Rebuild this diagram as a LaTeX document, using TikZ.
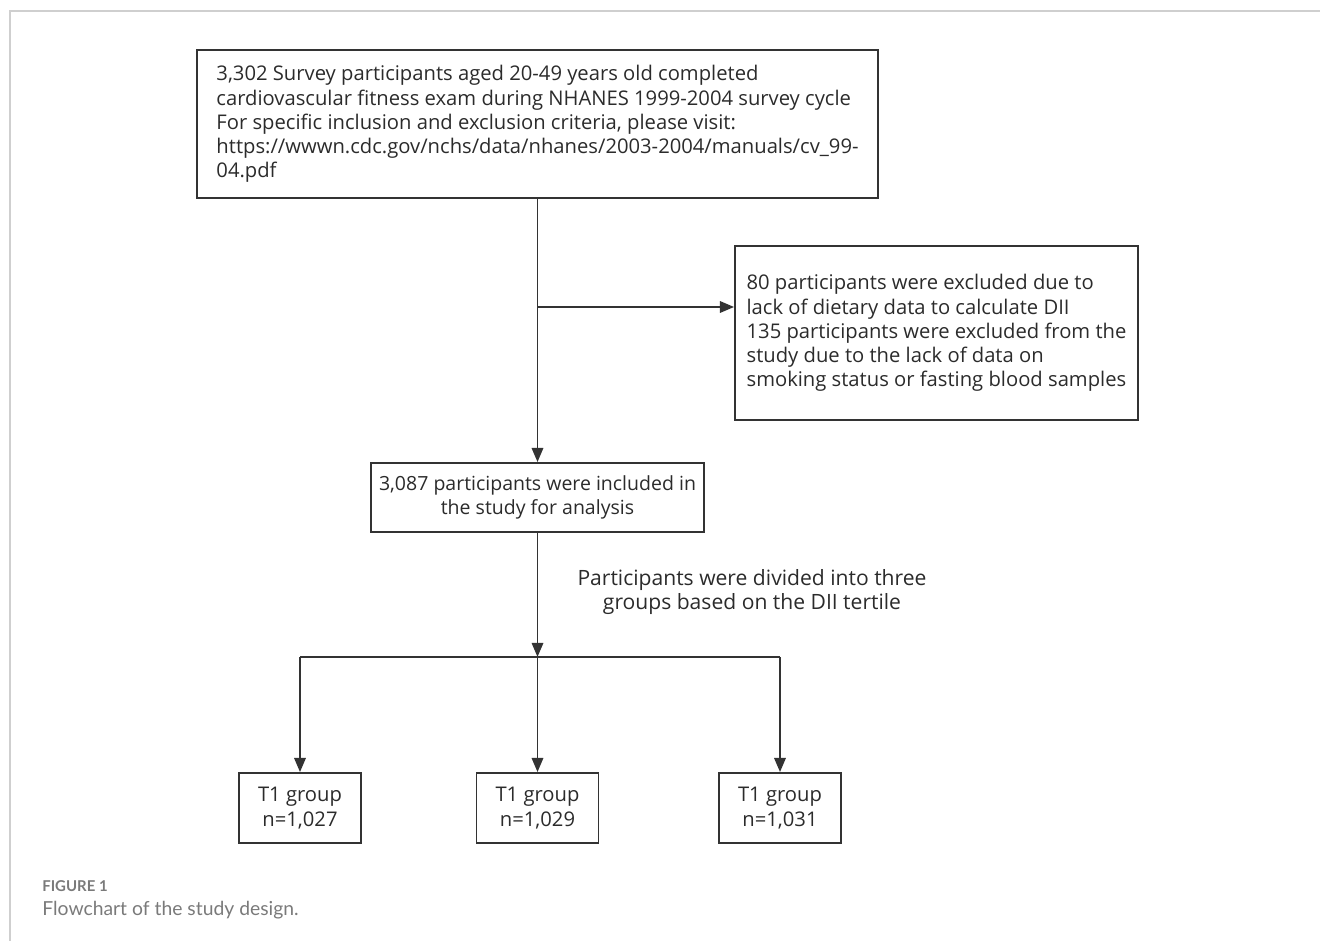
\documentclass[tikz,border=0pt]{standalone}
\usepackage{fontspec}
\setmainfont{Open Sans}
\newfontfamily\capfont{Lato}
\usepackage{xcolor}
\usepackage{tikz}
\usetikzlibrary{arrows.meta, positioning, calc}
\definecolor{boxline}{HTML}{333333}
\definecolor{textgray}{HTML}{2B2B2B}
\definecolor{framegray}{HTML}{CFCFCF}
\definecolor{capgray}{HTML}{7A7A7A}
\tikzset{
    flowbox/.style={rectangle, draw=boxline, line width=1.1pt, text=textgray, font=\fontsize{11.5}{13.8}\selectfont, inner sep=0pt},
    flowarrow/.style={-{Triangle[length=8pt, width=6.5pt]}, line width=1.1pt, draw=boxline},
    flowline/.style={line width=1.1pt, draw=boxline}
}

\begin{document}
\begin{tikzpicture}
    \useasboundingbox (0,0) rectangle (26.4,-18.82);

    % Frame
    \draw[framegray, line width=0.8pt] (0.2,-18.82) -- (0.2,-0.22) -- (26.4,-0.22);

    % Boxes
    \node[flowbox, minimum width=13.62cm, minimum height=2.96cm, align=left] (survey) at (10.75,-2.48)
        {3,302 Survey participants aged 20-49 years old completed\\
         cardiovascular fitness exam during NHANES 1999-2004 survey cycle\\
         For specific inclusion and exclusion criteria, please visit:\\
         https://wwwn.cdc.gov/nchs/data/nhanes/2003-2004/manuals/cv\_99-\\
         04.pdf};
    \node[flowbox, minimum width=8.06cm, minimum height=3.48cm, align=left] (excl) at (18.73,-6.66)
        {80 participants were excluded due to\\
         lack of dietary data to calculate DII\\
         135 participants were excluded from the\\
         study due to the lack of data on\\
         smoking status or fasting blood samples};
    \node[flowbox, minimum width=6.66cm, minimum height=1.38cm, align=center, font=\fontsize{11.1}{13.8}\selectfont] (incl) at (10.75,-9.95)
        {3,087 participants were included in\\ the study for analysis};
    \node[text=textgray, font=\fontsize{12}{13.8}\selectfont, align=center] (divtext) at (15.04,-11.84)
        {Participants were divided into three\\ groups based on the DII tertile};

    % Groups
    \node[flowbox, minimum width=2.44cm, minimum height=1.4cm, align=center] (grpA) at (6.0,-16.16) {T1 group\\ n=1,027};
    \node[flowbox, minimum width=2.44cm, minimum height=1.4cm, align=center] (grpB) at (10.75,-16.16) {T1 group\\ n=1,029};
    \node[flowbox, minimum width=2.44cm, minimum height=1.4cm, align=center] (grpC) at (15.6,-16.16) {T1 group\\ n=1,031};

    % Connectors
    \coordinate (split) at (10.75,-6.14);
    \coordinate (fork) at (10.75,-13.14);
    \draw[flowarrow] (survey.south) -- (incl.north);
    \draw[flowarrow] (split) -- (split -| excl.west);
    \draw[flowarrow] (incl.south) -- (fork);
    \draw[flowline] (fork -| grpA) -- (fork -| grpC);
    \foreach \g in {grpA, grpB, grpC}
        \draw[flowarrow] (fork -| \g) -- (\g.north);

    % Caption
    \node[anchor=west, inner sep=0pt, text=capgray, font=\capfont\bfseries\fontsize{8.5}{10}\selectfont] (figlabel) at (0.84,-17.72) {FIGURE 1};
    \node[anchor=west, inner sep=0pt, text=capgray, font=\capfont\fontsize{11}{13}\selectfont] (figcap) at (0.84,-18.2) {Flowchart of the study design.};
\end{tikzpicture}
\end{document}
